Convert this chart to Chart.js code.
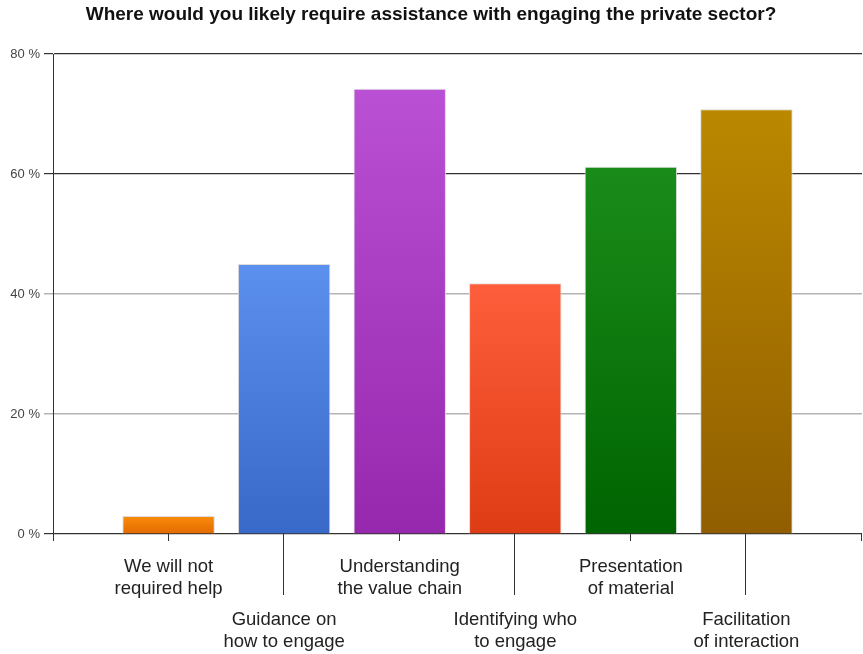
<!DOCTYPE html>
<html>
<head>
<meta charset="utf-8">
<script src="https://cdn.jsdelivr.net/npm/chart.js@4/dist/chart.umd.min.js"></script>
<style>
  html, body { margin: 0; padding: 0; background: #fff; }
  #wrap { width: 863px; height: 654px; }
</style>
</head>
<body>
<div id="wrap"><canvas id="chart"></canvas></div>
<script>
// Survey data
const categories = [
    ['We will not', 'required help'],
    ['Guidance on', 'how to engage'],
    ['Understanding', 'the value chain'],
    ['Identifying who', 'to engage'],
    ['Presentation', 'of material'],
    ['Facilitation', 'of interaction']
];
const percentages = [3, 45, 74.2, 41.8, 61.2, 70.8];
const topColors = ['#fb8c0c', '#5c90ee', '#ba50d4', '#ff5e3c', '#1a8c1a', '#bb8800'];
const bottomColors = ['#e36a00', '#3868c8', '#9628ae', '#dd3c14', '#006400', '#905e00'];
const yTicks = [0, 20, 40, 60, 80];

const title = 'Where would you likely require assistance with engaging the private sector?';

// one gradient per bar, light at the top
function barFill(context) {
    const i = context.dataIndex;
    const chart = context.chart;
    if (!chart.chartArea || !chart.scales.y) return topColors[i];
    const y = chart.scales.y;
    const top = y.getPixelForValue(percentages[i]);
    const bottom = y.getPixelForValue(0);
    const g = chart.ctx.createLinearGradient(0, top, 0, bottom);
    g.addColorStop(0, topColors[i]);
    g.addColorStop(1, bottomColors[i]);
    return g;
}

// x ticks and staggered labels
const xLabels = {
    id: 'xLabels',
    afterDraw(chart) {
        const ctx = chart.ctx;
        const x = chart.scales.x;
        const bottom = chart.chartArea.bottom;
        ctx.save();
        ctx.strokeStyle = '#333';
        ctx.lineWidth = 1;
        // little tail of the y axis below the baseline
        ctx.beginPath();
        ctx.moveTo(chart.chartArea.left + 0.5, bottom);
        ctx.lineTo(chart.chartArea.left + 0.5, bottom + 7);
        ctx.stroke();
        for (let v = 1; v <= 7; v++) {
            const px = Math.round(x.getPixelForValue(v)) - 0.5;
            const len = (v % 2 === 0) ? 61 : 7;
            ctx.beginPath();
            ctx.moveTo(px, bottom);
            ctx.lineTo(px, bottom + len);
            ctx.stroke();
        }
        ctx.fillStyle = '#222';
        ctx.font = '18.5px "Liberation Sans", Arial, sans-serif';
        ctx.textAlign = 'center';
        ctx.textBaseline = 'middle';
        categories.forEach((lines, i) => {
            const px = x.getPixelForValue(i + 1);
            const start = (i % 2 === 0) ? 33 : 86;
            lines.forEach((line, j) => {
                ctx.fillText(line, px, bottom + start + j * 22);
            });
        });
        ctx.restore();
    }
};

const ctx = document.getElementById('chart').getContext('2d');
const chart = new Chart(ctx, {
    type: 'bar',
    data: {
        datasets: [{
            data: percentages.map((v, i) => ({ x: i + 1, y: v })),
            backgroundColor: barFill,
            borderColor: '#dcdcdc',
            borderWidth: 1,
            categoryPercentage: 1,
            barPercentage: 0.8
        }]
    },
    options: {
        responsive: true,
        maintainAspectRatio: false,
        animation: false,
        layout: { padding: { left: 0, right: 1, top: 0, bottom: 0 } },
        plugins: {
            legend: { display: false },
            tooltip: { enabled: false },
            title: {
                display: true,
                text: title,
                color: '#111',
                font: { family: '"Liberation Sans", Arial, sans-serif', size: 19, weight: 'bold' },
                padding: { top: 3, bottom: 28.2 }
            }
        },
        scales: {
            x: {
                type: 'linear',
                min: 0,
                max: 7,
                offset: false,
                grid: { display: false },
                ticks: { display: false, stepSize: 1 },
                border: { display: false },
                afterFit: s => { s.height = 120; }
            },
            y: {
                min: 0,
                max: 80,
                afterBuildTicks: s => { s.ticks = yTicks.map(v => ({ value: v })); },
                ticks: {
                    color: '#444',
                    padding: 4,
                    font: { family: '"Liberation Sans", Arial, sans-serif', size: 13 },
                    callback: v => v + ' %'
                },
                grid: {
                    tickLength: 9,
                    color: c => ([0, 60, 80].includes(c.tick.value) ? '#333' : '#b4b4b4'),
                    lineWidth: c => ([0, 60, 80].includes(c.tick.value) ? 1.2 : 1.5)
                },
                border: { display: true, color: '#333', width: 1 },
                afterFit: s => { s.width = 53; }
            }
        }
    },
    plugins: [xLabels]
});
</script>
</body>
</html>
